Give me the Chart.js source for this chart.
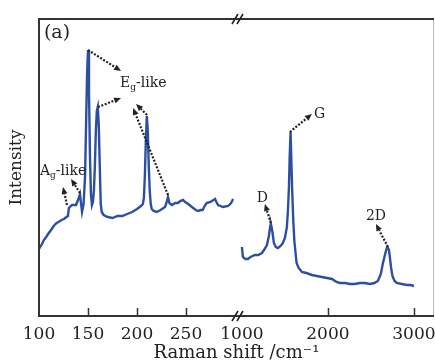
<!DOCTYPE html>
<html>
<head>
<meta charset="utf-8">
<script src="https://cdn.jsdelivr.net/npm/chart.js@4.4.0/dist/chart.umd.min.js"></script>
<style>
  html,body{margin:0;padding:0;background:#fff;}
  #c{display:block;}
</style>
</head>
<body>
<canvas id="c" width="435" height="363"></canvas>
<script>
// ---- Data (Raman shift in cm^-1, intensity in arbitrary units) ----
const lowShift = [100,103,105,108,110,113,115,118,120,123,125.5,128,129.5,130.5,133.7,137.8,139.8,141.8,143.9,145.5,147,148,149,150,151,152,153,154,155,156,157,158,159,160,161,162,163,164,166,170,175,180,185,190,195,200,204,206,207,208,209,210,211,212,213,214,215,217,220,224,228.6,230,231.6,233,235.7,239,241.8,244,247,249,251,256,260,262,265,267,269,271,275,279.6,281,282.7,287.8,292.9,296,298];
const lowIntensity = [67,72,76,80,83,87,90,93,94,96,97,99,100,108,111,111,116,122,104,112,140,190,240,266,225,160,122,111,114,125,150,185,205,209,190,150,112,104,101,99,98,100,100,102,104,107,110,112,118,140,175,200,185,150,125,112,107,105,104,106,109,113,119,113,111,113,113,115,116,114,113,109,106,105,106,106,110,113,114,117,114,111,109,110,113,117];
const highShift = [1000,1012,1040,1070,1100,1151,1190,1233,1265,1291,1314,1330,1337,1345,1355,1372,1395,1419,1450,1477,1500,1523,1535,1547,1556,1566,1575,1585,1597,1610,1625,1636,1660,1698,1750,1814,1870,1930,1990,2047,2100,2140,2200,2256,2310,2372,2430,2488,2540,2581,2615,2640,2660,2674,2690,2698,2710,2721,2735,2750,2775,2802,2860,2919,2960,3000];
const highIntensity = [69,59,57,57,59,61,61,63,67,71,80,90,92,89,84,73,69,68,70,73,78,89,105,129,160,184,155,125,96,75,62,53,48,44,43,41,40,39,38,37,34,33,33,32,32,33,33,32,33,35,42,53,60,65,69,69,66,58,48,40,35,33,32,31,31,30];
const tickValues = [100,150,200,250,1000,2000,3000];
const tickLabels = ['100','150','200','250','1000','2000','3000'];

// labels: [text, subscript, rest, shift, intensity, fontSize]
const peakLabels = [
  ['E','g','-like',182.7,229,14],
  ['A','g','-like',101,141,14],
  ['D','','',1174,114,14],
  ['G','','',1837,198,14],
  ['2D','','',2442,96,14],
  ['(a)','','',105,278,19]
];
// arrows: [fromShift, fromI, toShift, toI]
const arrows = [
  [150,266,183.7,245],
  [160.2,209,183.7,218],
  [210.2,201,199,212],
  [231.6,121,196,208],
  [128.6,111,124.5,129],
  [141.8,123,132.7,137],
  [1337,93,1267,112],
  [1558,184,1814,202],
  [2698,69,2558,92]
];

// broken axis: compress the high-shift segment
const BREAK_LOW = 302, BREAK_HIGH = 1000, HIGH_START = 307, HIGH_SCALE = 0.08776;
function toU(v){ return v <= 400 ? v : HIGH_START + (v - BREAK_HIGH) * HIGH_SCALE; }

const FONT = 'DejaVu Serif';
const INK = '#222';

const decor = {
  id: 'decor',
  afterDraw(chart){
    const {ctx, chartArea: ca, scales} = chart;
    const X = v => scales.x.getPixelForValue(toU(v));
    const Y = v => scales.y.getPixelForValue(v);
    ctx.save();
    // frame
    ctx.strokeStyle = '#bbb'; ctx.lineWidth = 1;
    ctx.beginPath(); ctx.moveTo(ca.right-0.5, ca.top); ctx.lineTo(ca.right-0.5, ca.bottom); ctx.stroke();
    ctx.strokeStyle = '#333'; ctx.lineWidth = 2;
    ctx.beginPath();
    ctx.moveTo(ca.left, ca.top); ctx.lineTo(ca.right, ca.top);
    ctx.moveTo(ca.left, ca.top-1); ctx.lineTo(ca.left, ca.bottom+1);
    ctx.moveTo(ca.left-1, ca.bottom); ctx.lineTo(ca.right, ca.bottom);
    ctx.stroke();
    // inward ticks
    ctx.lineWidth = 1.5;
    tickValues.forEach(v => {
      if (v === 100 || v === 1000) return;
      const x = Math.round(X(v)) + 0.5;
      ctx.beginPath(); ctx.moveTo(x, ca.bottom); ctx.lineTo(x, ca.bottom - 8); ctx.stroke();
    });
    // break marks
    const bx = scales.x.getPixelForValue((BREAK_LOW + HIGH_START)/2 - 2);
    ctx.lineWidth = 1.6; ctx.strokeStyle = '#222';
    [ca.top, ca.bottom].forEach(yy => {
      [-2.5, 2.5].forEach(dx => {
        ctx.beginPath(); ctx.moveTo(bx + dx - 3, yy + 5); ctx.lineTo(bx + dx + 3, yy - 5); ctx.stroke();
      });
    });
    // arrows
    ctx.fillStyle = INK; ctx.strokeStyle = INK;
    arrows.forEach(a => {
      const x1 = X(a[0]), y1 = Y(a[1]), x2 = X(a[2]), y2 = Y(a[3]);
      const ang = Math.atan2(y2 - y1, x2 - x1);
      const hl = 7, hw = 3;
      const hx = x2 - hl*Math.cos(ang), hy = y2 - hl*Math.sin(ang);
      ctx.setLineDash([2,1.6]); ctx.lineWidth = 2.2;
      ctx.beginPath(); ctx.moveTo(x1, y1); ctx.lineTo(hx, hy); ctx.stroke();
      ctx.setLineDash([]);
      ctx.beginPath(); ctx.moveTo(x2, y2);
      ctx.lineTo(hx + hw*Math.sin(ang), hy - hw*Math.cos(ang));
      ctx.lineTo(hx - hw*Math.sin(ang), hy + hw*Math.cos(ang));
      ctx.closePath(); ctx.fill();
    });
    // labels
    ctx.textBaseline = 'alphabetic'; ctx.textAlign = 'left';
    peakLabels.forEach(l => {
      let x = X(l[3]); const y = Y(l[4]); const fs = l[5];
      ctx.font = fs + 'px "' + FONT + '"';
      ctx.fillText(l[0], x, y); x += ctx.measureText(l[0]).width;
      if (l[1]) {
        ctx.font = Math.round(fs*0.65) + 'px "' + FONT + '"';
        ctx.fillText(l[1], x, y + 3); x += ctx.measureText(l[1]).width;
      }
      if (l[2]) {
        ctx.font = fs + 'px "' + FONT + '"';
        ctx.fillText(l[2], x, y);
      }
    });
    ctx.restore();
  }
};

const lineColor = '#2d4f9f';
new Chart(document.getElementById('c'), {
  type: 'line',
  data: {
    datasets: [
      { data: lowShift.map((s,i) => ({x: toU(s), y: lowIntensity[i]})), borderColor: lineColor, borderWidth: 2.4, pointRadius: 0, tension: 0, fill: false },
      { data: highShift.map((s,i) => ({x: toU(s), y: highIntensity[i]})), borderColor: lineColor, borderWidth: 2.4, pointRadius: 0, tension: 0, fill: false }
    ]
  },
  options: {
    responsive: false,
    animation: false,
    devicePixelRatio: 1,
    layout: { padding: { top: 19, right: 1, left: 0, bottom: 0 } },
    plugins: { legend: { display: false }, tooltip: { enabled: false } },
    scales: {
      x: {
        type: 'linear', min: 100, max: 503,
        afterFit: s => { s.height = 47; s.paddingLeft = 0; s.paddingRight = 0; },
        afterBuildTicks: s => { s.ticks = tickValues.map(v => ({ value: toU(v) })); },
        ticks: {
          autoSkip: false, maxRotation: 0, padding: 8, color: INK,
          font: { family: FONT, size: 17 },
          callback: (val, idx) => tickLabels[idx]
        },
        grid: { display: false, drawTicks: false },
        border: { display: false },
        title: { display: true, text: 'Raman shift /cm⁻¹', color: INK, font: { family: FONT, size: 18, lineHeight: 1 }, padding: { top: 0, bottom: 1 } }
      },
      y: {
        type: 'linear', min: 0, max: 297,
        afterFit: s => { s.width = 39; },
        ticks: { display: false },
        grid: { display: false, drawTicks: false },
        border: { display: false },
        title: { display: true, text: 'Intensity', color: INK, font: { family: FONT, size: 17, lineHeight: 1 }, padding: { top: 8, bottom: 0 } }
      }
    }
  },
  plugins: [decor]
});
</script>
</body>
</html>
